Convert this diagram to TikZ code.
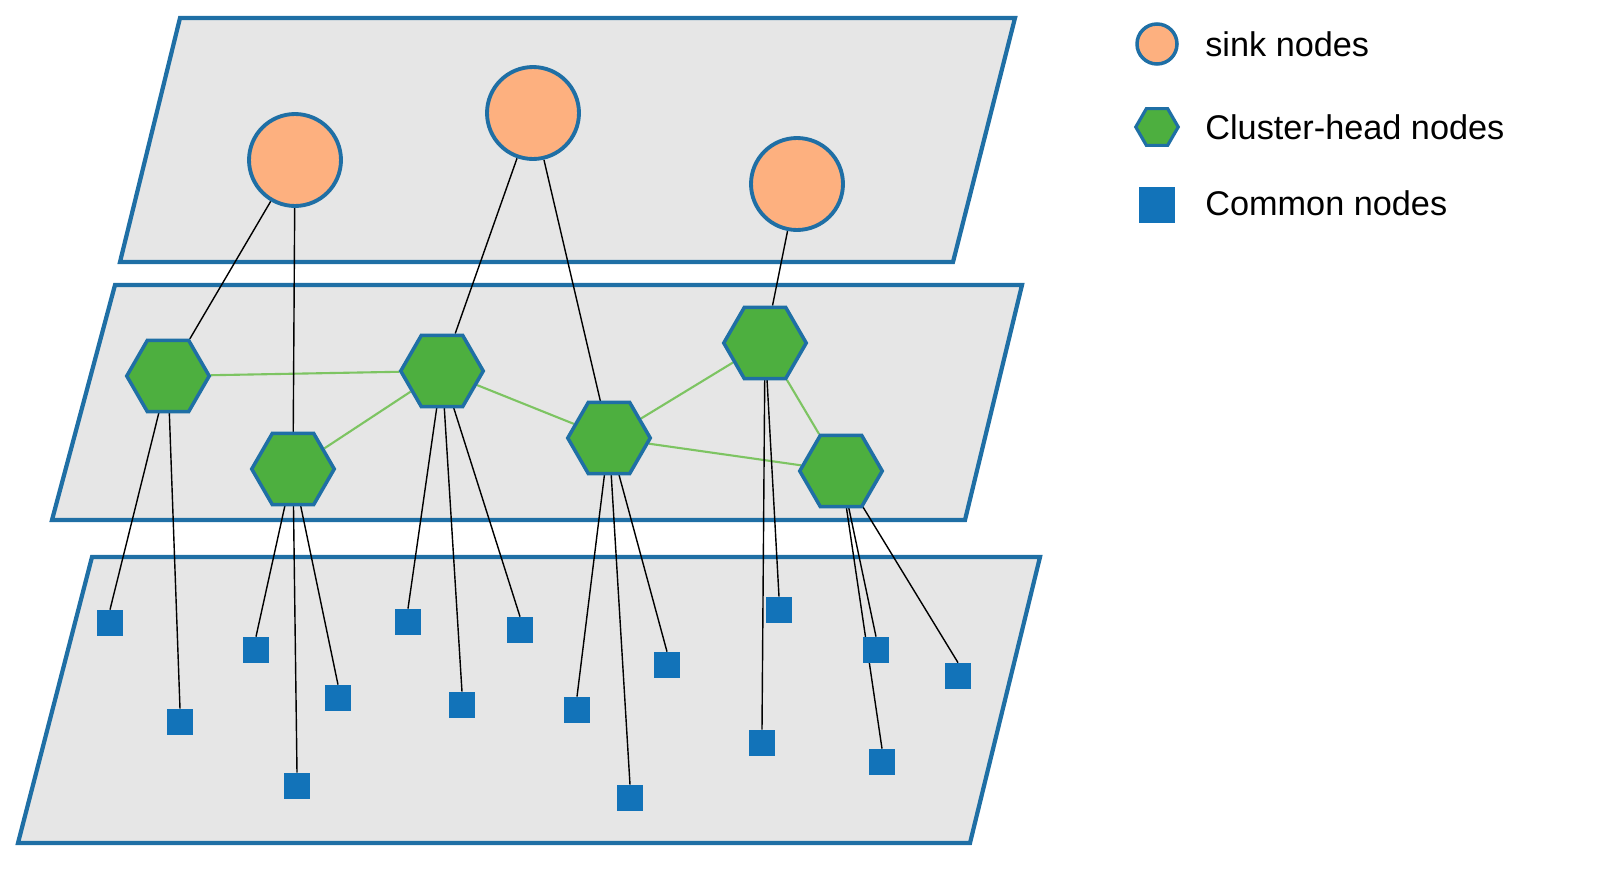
\documentclass[tikz,border=0pt]{standalone}
\usepackage{fontspec}
\setmainfont{Liberation Sans}
\usetikzlibrary{shapes.geometric}
\pgfdeclarelayer{planes}\pgfdeclarelayer{links}
\pgfsetlayers{planes,links,main}
\definecolor{bord}{HTML}{1F6FA5}
\definecolor{plane}{HTML}{E6E6E6}
\definecolor{sinkc}{HTML}{FDB07F}
\definecolor{headc}{HTML}{4DAF3F}
\definecolor{sq}{HTML}{1273B9}
\definecolor{glink}{HTML}{7DC462}
\tikzset{
 plane/.style={draw=bord,fill=plane,line width=2.4pt},
 sink/.style={circle,draw=bord,fill=sinkc,line width=2.2pt,minimum size=1.84cm,inner sep=0},
 head/.style={regular polygon,regular polygon sides=6,draw=bord,fill=headc,line width=2pt,minimum size=1.65cm,inner sep=0},
 com/.style={rectangle,fill=sq,minimum size=0.52cm,inner sep=0},
 bl/.style={black,line width=0.8pt},
 gl/.style={glink,line width=1.2pt},
 lab/.style={anchor=west,font=\fontsize{19.5}{23}\selectfont,inner sep=0}
}
\begin{document}
\begin{tikzpicture}[x=0.02cm,y=-0.02cm]
\useasboundingbox (0,0) rectangle (1606,886);
\begin{pgfonlayer}{planes}
\draw[plane] (120,262)--(180,18)--(1015,18)--(953,262)--cycle;
\draw[plane] (52,520)--(115,285)--(1022,285)--(965,520)--cycle;
\draw[plane] (18,843)--(92,557)--(1040,557)--(970,843)--cycle;
\end{pgfonlayer}
\node[sink] (S1) at (295,160) {};
\node[sink] (S2) at (533,113) {};
\node[sink] (S3) at (797,184) {};
\node[head] (H1) at (168,376) {};
\node[head] (H2) at (293,469) {};
\node[head] (H3) at (442,371) {};
\node[head] (H4) at (609,438) {};
\node[head] (H5) at (765,343) {};
\node[head] (H6) at (841,471) {};
\foreach \n/\x/\y in {a/110/623,b/180/722,c/256/650,d/338/698,e/297/786,f/408/622,g/462/705,h/520/630,i/577/710,j/667/665,k/630/798,l/779/610,m/762/743,n/876/650,o/958/676,p/882/762}
  \node[com] (C\n) at (\x,\y) {};
\begin{pgfonlayer}{links}
\draw[gl] (H1)--(H3) (H2)--(H3) (H3)--(H4) (H4)--(H5) (H5)--(H6) (H4)--(H6);
\draw[bl] (S1)--(H1) (S1)--(H2.center) (S2)--(H3) (S2)--(H4.center) (S3)--(H5);
\foreach \h/\cs in {H1/{a,b},H2/{c,d,e},H3/{f,g,h},H4/{i,j,k},H5/{l,m},H6/{n,o,p}}
  \foreach \c in \cs \draw[bl] (\h.center)--(C\c.north);
\end{pgfonlayer}
\node[sink,minimum size=0.8cm,line width=2pt] (LS) at (1157,44) {};
\node[head,minimum size=0.85cm,line width=1.8pt] (LH) at (1157,127) {};
\node[com,minimum size=0.72cm] (LC) at (1157,205) {};
\node[lab] (T1) at (1205,44) {sink nodes};
\node[lab] (T2) at (1205,127) {Cluster-head nodes};
\node[lab] (T3) at (1205,203) {Common nodes};
\end{tikzpicture}
\end{document}
